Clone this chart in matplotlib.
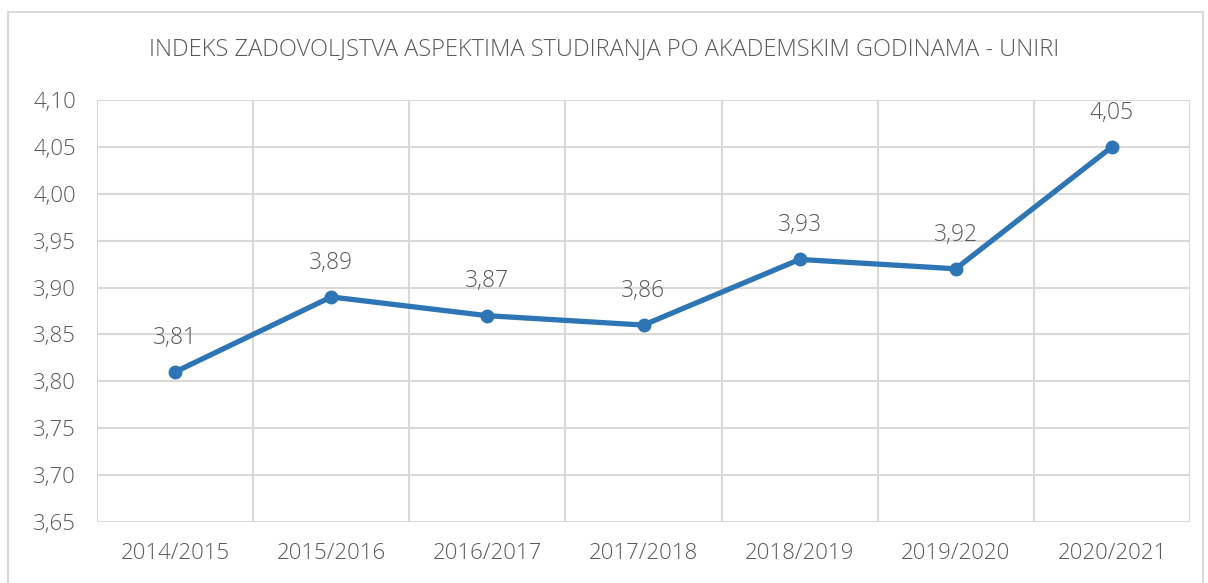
import matplotlib.pyplot as plt
from matplotlib.patches import Rectangle

# Academic years and satisfaction index
years = ['2014/2015', '2015/2016', '2016/2017', '2017/2018', '2018/2019', '2019/2020', '2020/2021']
index_values = [3.81, 3.89, 3.87, 3.86, 3.93, 3.92, 4.05]
y_ticks = [3.65, 3.70, 3.75, 3.80, 3.85, 3.90, 3.95, 4.00, 4.05, 4.10]

text_color = '#595959'
grid_color = '#D9D9D9'
line_color = '#2E75B6'

plt.rcParams['font.family'] = ['Open Sans', 'DejaVu Sans']

fig = plt.figure(figsize=(12.08, 5.83), dpi=100)
ax = fig.add_axes([97 / 1208, 61 / 583, 1093 / 1208, 422 / 583])

# outer chart border
fig.patches.append(Rectangle((8 / 1208, -0.05), 1195 / 1208, 1.05 - 12 / 583,
                             transform=fig.transFigure, fill=False,
                             edgecolor=grid_color, linewidth=1.5))

x = list(range(len(years)))
ax.plot(x, index_values, color=line_color, linewidth=3.8, marker='o',
        markersize=9, zorder=3)

for xi, v in zip(x, index_values):
    ax.annotate(f'{v:.2f}'.replace('.', ','), (xi, v), xytext=(0, 16),
                textcoords='offset points', ha='center', va='bottom',
                fontsize=16.5, color=text_color, fontweight='light')

ax.set_xlim(-0.5, len(years) - 0.5)
ax.set_ylim(3.65, 4.10)
ax.set_yticks(y_ticks)
ax.set_yticklabels([f'{t:.2f}'.replace('.', ',') for t in y_ticks])
ax.set_xticks(x)
ax.set_xticklabels(years)
ax.set_xticks([i - 0.5 for i in range(len(years) + 1)], minor=True)

ax.grid(True, axis='y', which='major', color=grid_color, linewidth=1.5)
ax.grid(True, axis='x', which='minor', color=grid_color, linewidth=1.5)
ax.grid(False, axis='x', which='major')
ax.tick_params(axis='both', which='both', length=0, colors=text_color,
               labelsize=16)
for lab in ax.get_xticklabels() + ax.get_yticklabels():
    lab.set_fontweight('light')
ax.tick_params(axis='x', pad=15)
ax.tick_params(axis='y', pad=15)
for s in ax.spines.values():
    s.set_visible(False)
ax.set_axisbelow(True)

fig.text(0.5, 1 - 50 / 583, 'INDEKS ZADOVOLJSTVA ASPEKTIMA STUDIRANJA PO AKADEMSKIM GODINAMA - UNIRI',
         ha='center', va='center', fontsize=17, color=text_color, fontweight='light')

fig.savefig('out.png', dpi=100)
